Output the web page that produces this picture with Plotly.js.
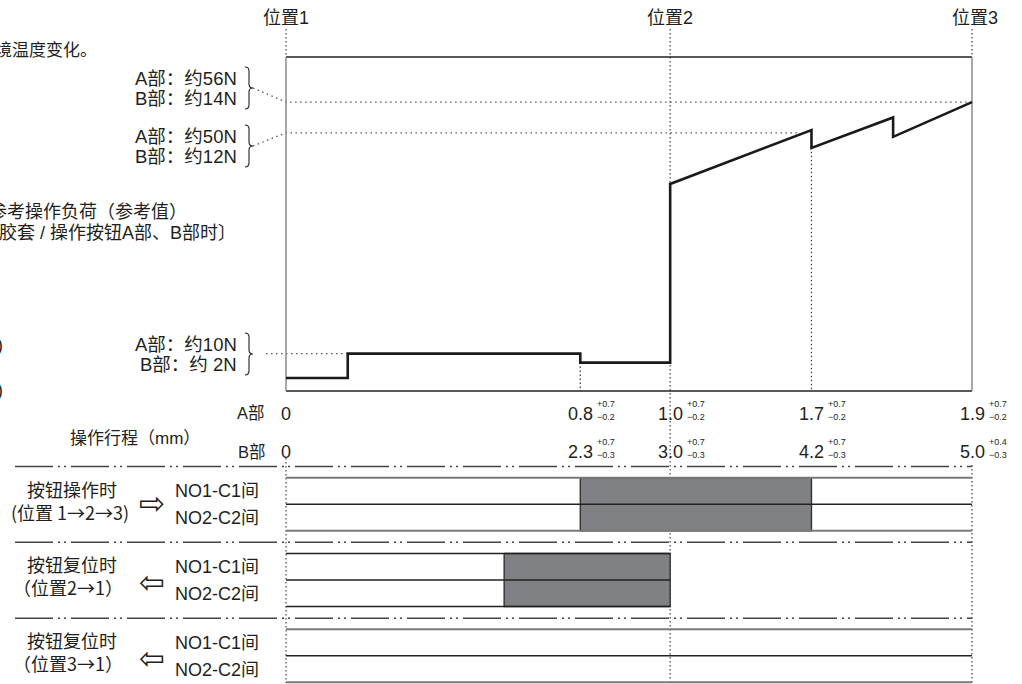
<!DOCTYPE html>
<html><head><meta charset="utf-8">
<script src="https://cdn.plot.ly/plotly-3.0.1.min.js"></script>
<style>html,body{margin:0;padding:0;background:#fff}#chart{width:1022px;height:684px}</style>
</head><body><div id="chart"></div>
<script>
// ---------- data ----------
const positionLabels = ['位置1', '位置2', '位置3'];
const positionX = [0, 0.56, 1.0];                 // schematic stroke position (not to scale)
const strokeX = [0, 0.429, 0.56, 0.766, 1.0];
const strokeA = ['0', '0.8', '1.0', '1.7', '1.9'];
const tolAPlus = ['', '+0.7', '+0.7', '+0.7', '+0.7'];
const tolAMinus = ['', '−0.2', '−0.2', '−0.2', '−0.2'];
const strokeB = ['0', '2.3', '3.0', '4.2', '5.0'];
const tolBPlus = ['', '+0.7', '+0.7', '+0.7', '+0.4'];
const tolBMinus = ['', '−0.3', '−0.3', '−0.3', '−0.3'];
const loadX = [0, 0.090, 0.090, 0.429, 0.429, 0.560, 0.560, 0.766, 0.766, 0.885, 0.885, 1.0];
const loadY = [3.9, 3.9, 11.2, 11.2, 8.5, 8.5, 62.0, 78.1, 72.8, 81.9, 76.1, 86.5];
const refLevel = [86.5, 77.3, 11.2];
const refEndX = [1.0, 0.75, 0.429];
const refTextA = ['A部：约56N', 'A部：约50N', 'A部：约10N'];
const refTextB = ['B部：约14N', 'B部：约12N', 'B部：约 2N'];
const modeTitle = ['按钮操作时', '按钮复位时', '按钮复位时'];
const modeRoute = ['(位置 1→2→3)', '（位置2→1）', '（位置3→1）'];
const modeArrow = ['⇨', '⇦', '⇦'];
const contactNames = ['NO1-C1间', 'NO2-C2间'];
const travelEndX = [1.0, 0.56, 1.0];
const onStartX = [0.429, 0.318, null];
const onEndX = [0.766, 0.56, null];

// ---------- layout constants ----------
const W = 1022, H = 684, L = 286, R = 972, T = 57, B = 391;
const ROW_TOP = 477.7, ROW_H = 26.5, PITCH = 2.86;
const X = px => (px - L) / (R - L);
const Y = py => (B - py) / (B - T) * 100;
const R2 = py => (py - ROW_TOP) / ROW_H;
const PY2 = r => ROW_TOP + r * ROW_H;
const FONT = '"Liberation Sans", "Noto Sans CJK SC", Arial, sans-serif';
const CJK = '"Noto Sans CJK SC", "Liberation Sans", sans-serif';
const TXT = '#231f20';
const DOT = '1.5px,3.5px';
const DOTV = '1.5px,2.5px';
const DASHDOT = '38px,5px,2px,4px,2px,5px';

const traces = [];
const line = (x, y, color, width, dash, yaxis) => traces.push({
  type: 'scatter', mode: 'lines', x, y, yaxis: yaxis || 'y', hoverinfo: 'skip',
  line: {color, width, dash: dash || 'solid'}
});

// reference dotted levels + connectors from brace tips
const braceCenterPx = [88, 146, 354];
refLevel.forEach((lv, i) => {
  if (i < 2) {
    line([X(253), 0, refEndX[i]], [Y(braceCenterPx[i]), lv, lv], '#555', 1.3, DOT);
  } else {
    line([X(266), refEndX[i]], [lv, lv], '#555', 1.3, DOT);
  }
});
// vertical dotted lines at positions
line([0, 0], [Y(29), 100], '#555', 1.3, DOTV);
line([1, 1], [Y(29), 100], '#555', 1.3, DOTV);
line([positionX[1], positionX[1]], [Y(29), Y(683)], '#555', 1.3, DOTV);
line([0, 0], [Y(458), Y(683)], '#555', 1.3, DOTV);
line([1, 1], [Y(465), Y(683)], '#555', 1.3, DOTV);
// stroke markers down from curve
line([strokeX[1], strokeX[1]], [loadY[4], 0], '#444', 1.3, DOTV);
line([strokeX[3], strokeX[3]], [loadY[8], 0], '#444', 1.3, DOTV);

// box
line([0, 1], [100, 100], '#222', 1.5);
line([0, 1], [0, 0], '#222', 1.5);
line([0, 0], [0, 100], '#8a8a8a', 1.5);
line([1, 1], [0, 100], '#8a8a8a', 1.5);

// load curve
line(loadX, loadY, '#1a1a1a', 2.6);

// lower: contact diagram
const groupTop = [0, 1, 2].map(g => g * PITCH);
groupTop.forEach((gt, g) => {
  line([X(15), 1], [gt - 0.42, gt - 0.42], '#444', 1.5, DASHDOT, 'y2');
  if (onStartX[g] !== null) {
    traces.push({type: 'scatter', mode: 'lines', yaxis: 'y2', hoverinfo: 'skip',
      x: [onStartX[g], onEndX[g], onEndX[g], onStartX[g], onStartX[g]],
      y: [gt, gt, gt + 2, gt + 2, gt], fill: 'toself', fillcolor: '#808185',
      line: {color: '#333', width: 1.4}});
  }
  const cols = g === 1 ? ['#222', '#222', '#222'] : ['#7a7a7a', '#222', '#7a7a7a'];
  const wds = g === 1 ? [1.5, 1.5, 1.5] : [2, 1.5, 2];
  [0, 1, 2].forEach(k => line([0, travelEndX[g]], [gt + k, gt + k], cols[k], wds[k], 'solid', 'y2'));
});

// ---------- annotations ----------
const anns = [];
const pa = (px, py, text, o = {}) => anns.push({
  xref: 'paper', yref: 'paper', x: px / W, y: 1 - py / H, text, showarrow: false,
  xanchor: o.xa || 'center', yanchor: 'middle',
  font: {size: o.size || 18, color: TXT, family: o.family || FONT}
});
const xa = (xv, py, text, o = {}) => anns.push({
  xref: 'x', yref: 'paper', x: xv, y: 1 - py / H, text, showarrow: false,
  xanchor: o.xa || 'center', yanchor: 'middle', xshift: o.xs || 0,
  font: {size: o.size || 18, color: TXT, family: FONT}
});

positionLabels.forEach((t, i) => xa(positionX[i], 18, t, {size: 18, xs: i === 2 ? 3 : 0}));
// force labels
refTextA.forEach((t, i) => {
  pa(239, braceCenterPx[i] - 9.5, t, {xa: 'right', size: 18.5});
  pa(239, braceCenterPx[i] + 10.5, refTextB[i], {xa: 'right', size: 18.5});
});
// cut-off left texts
pa(99, 48, '环境温度变化。', {xa: 'right', size: 17, family: CJK});
pa(189, 212, '参考操作负荷（参考值）', {xa: 'right', size: 18});
pa(238, 233, '〔橡胶套 / 操作按钮A部、B部时〕', {xa: 'right', size: 18});
pa(5, 345, ')', {xa: 'right', size: 18});
pa(5, 390, ')', {xa: 'right', size: 18});
// stroke axis
pa(251, 413, 'A部', {size: 16.5});
pa(252, 452, 'B部', {size: 16.5});
pa(135, 438, '操作行程（mm）', {size: 17});
strokeX.forEach((xv, i) => {
  xa(xv, 414, strokeA[i], {size: 18});
  xa(xv, 452, strokeB[i], {size: 18});
  if (tolAPlus[i]) {
    xa(xv, 404, tolAPlus[i], {xa: 'left', xs: 15, size: 9});
    xa(xv, 416.5, tolAMinus[i], {xa: 'left', xs: 15, size: 9});
    xa(xv, 442, tolBPlus[i], {xa: 'left', xs: 15, size: 9});
    xa(xv, 455, tolBMinus[i], {xa: 'left', xs: 15, size: 9});
  }
});
// modes
groupTop.forEach((gt, g) => {
  const top = PY2(gt);
  pa(72, top + 13, modeTitle[g], {size: 18});
  pa(g === 0 ? 70 : 68, top + 34, modeRoute[g], {size: 18, family: CJK});
  pa(152, top + (g === 0 ? 25 : 29), modeArrow[g], {size: 31, family: '"DejaVu Sans", sans-serif'});
  contactNames.forEach((c, k) => pa(173, PY2(gt + k + 0.5) + 0.5, c, {xa: 'left', size: 18}));
});

// braces
const shapes = braceCenterPx.map(c => {
  const h = 21, x0 = X(245), xm = X(249), xt = X(253);
  const p = [
    `M${x0},${Y(c - h)}`, `Q${xm},${Y(c - h)} ${xm},${Y(c - h + 4)}`,
    `L${xm},${Y(c - 4)}`, `Q${xm},${Y(c)} ${xt},${Y(c)}`,
    `Q${xm},${Y(c)} ${xm},${Y(c + 4)}`, `L${xm},${Y(c + h - 4)}`,
    `Q${xm},${Y(c + h)} ${x0},${Y(c + h)}`
  ].join(' ');
  return {type: 'path', xref: 'x', yref: 'y', path: p, line: {color: '#222', width: 1.1}};
});

const layout = {
  width: W, height: H, margin: {l: 0, r: 0, t: 0, b: 0},
  paper_bgcolor: '#fff', plot_bgcolor: 'rgba(0,0,0,0)', showlegend: false,
  xaxis: {domain: [0, 1], range: [X(0), X(W)], visible: false, fixedrange: true},
  yaxis: {domain: [0, 1], range: [Y(H), Y(0)], visible: false, fixedrange: true},
  yaxis2: {domain: [0, 1], overlaying: 'y', range: [R2(H), R2(0)], visible: false, fixedrange: true},
  shapes, annotations: anns
};
Plotly.newPlot('chart', traces, layout, {staticPlot: true, displayModeBar: false});
</script></body></html>
